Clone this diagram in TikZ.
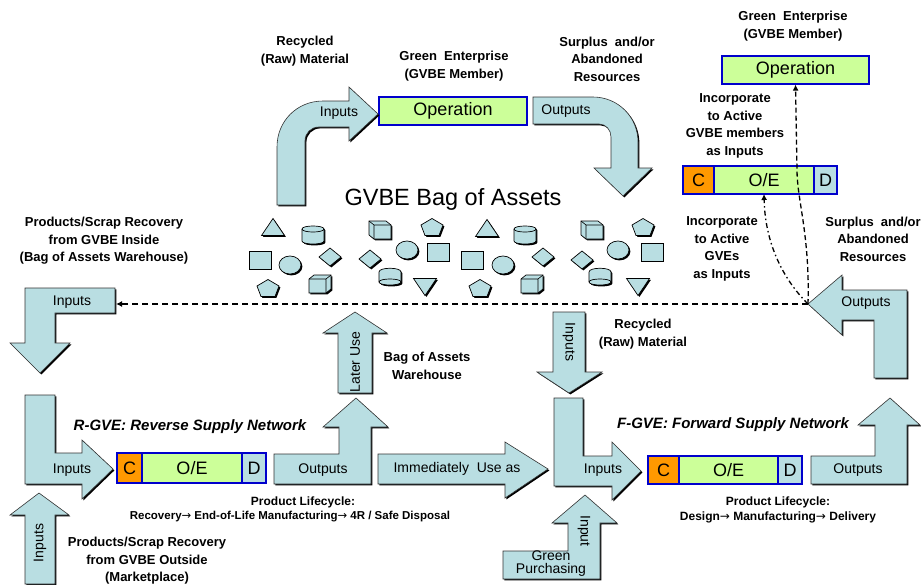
\documentclass[tikz,border=0pt]{standalone}
\usepackage{fontspec}
\setmainfont{Liberation Sans}
\newfontfamily\arrfont{DejaVu Sans}
\usetikzlibrary{arrows.meta,shadows}
\definecolor{abl}{RGB}{185,222,226}
\definecolor{lgr}{RGB}{204,255,153}
\definecolor{org}{RGB}{255,153,0}
\definecolor{bbl}{RGB}{0,0,204}
\newcommand{\myarr}{{\arrfont\mdseries →}}
\tikzset{
  shd/.style={drop shadow={shadow xshift=1.4pt,shadow yshift=-1.4pt,fill=black,opacity=1}},
  blk/.style={fill=abl,draw=black!80,line width=0.6pt,shd},
  asset/.style={fill=abl,draw=black,line width=0.7pt,shd},
  lbl/.style={font=\fontsize{13}{17.5}\selectfont\bfseries,align=center,inner sep=0pt},
  lcy/.style={font=\fontsize{12}{12}\selectfont\bfseries,inner sep=0pt},
  atxt/.style={font=\fontsize{14}{14}\selectfont,inner sep=0pt},
  ttl/.style={font=\fontsize{15}{15}\selectfont\bfseries\itshape,inner sep=0pt},
  cell/.style={draw=bbl,line width=1.2pt,inner sep=0pt,outer sep=0pt,anchor=west,font=\fontsize{18}{18}\selectfont},
  opbox/.style={draw=bbl,line width=1.2pt,fill=lgr,inner sep=0pt,font=\fontsize{18}{18}\selectfont},
  dsh/.style={draw=black,line width=1.3pt,dash pattern=on 6pt off 4pt,-{Latex[length=6pt,width=6pt]}},
  dshc/.style={draw=black,line width=1.3pt,dash pattern=on 5pt off 3pt,-{Latex[length=6pt,width=6pt]}},
  dshd/.style={draw=black,line width=1.3pt,dash pattern=on 5pt off 3pt on 1.5pt off 3pt,-{Latex[length=6pt,width=6pt]}},
  pics/sq/.style={code={\path[asset] (-11,-9) rectangle (11,9);}},
  pics/circ/.style={code={\path[asset] (0,0) ellipse [x radius=11pt,y radius=9pt];}},
  pics/dia/.style={code={\path[asset] (0,-9) -- (11,0) -- (0,9) -- (-11,0) -- cycle;}},
  pics/tri/.style={code={\path[asset] (-11.5,8.5) -- (11.5,8.5) -- (0,-8.5) -- cycle;}},
  pics/itri/.style={code={\path[asset] (-11.5,-8.5) -- (11.5,-8.5) -- (0,8.5) -- cycle;}},
  pics/pent/.style={code={\path[asset] (0,-8.5) -- (11,-2) -- (7,8.5) -- (-7,8.5) -- (-11,-2) -- cycle;}},
  pics/cyl/.style={code={
    \path[asset] (-11,-6) -- (-11,6) .. controls (-11,10) and (11,10) .. (11,6) -- (11,-6) .. controls (11,-10) and (-11,-10) .. (-11,-6) -- cycle;
    \draw[black,line width=0.7pt] (-11,-6) .. controls (-11,-2) and (11,-2) .. (11,-6);}},
  pics/cylB/.style={code={
    \path[asset] (-11,-5) -- (-11,5) .. controls (-11,9) and (11,9) .. (11,5) -- (11,-5) .. controls (11,-10) and (-11,-10) .. (-11,-5) -- cycle;
    \draw[black,line width=0.7pt] (-11,5) .. controls (-11,1) and (11,1) .. (11,5);}},
  pics/boxR/.style={code={
    \path[asset] (-11,-5) -- (-6,-9) -- (11,-9) -- (11,5) -- (6,9) -- (-11,9) -- cycle;
    \draw[black,line width=0.6pt] (-11,-5) -- (6,-5) -- (6,9) (6,-5) -- (11,-9);}},
  pics/boxL/.style={code={
    \path[asset] (-11,-9) -- (6,-9) -- (11,-5) -- (11,9) -- (-6,9) -- (-11,5) -- cycle;
    \draw[black,line width=0.6pt] (-11,-9) -- (-6,-5) -- (11,-5) (-6,-5) -- (-6,9);}},
}
\begin{document}
\begin{tikzpicture}[x=1pt,y=-1pt]
\useasboundingbox (0,0) rectangle (921,584);

% ---------- top centre ----------
\node[lbl] (recyT) at (305,51) {Recycled\\(Raw) Material};
\node[lbl] (geT) at (454,66) {Green~~Enterprise\\(GVBE Member)};
\node[lbl] (surT) at (607,59) {Surplus~~and/or\\Abandoned\\Resources};
\node[opbox,minimum width=148,minimum height=28] (opM) at (453,111) {Operation};
\path[blk] (277,205) -- (277,147) .. controls (277,121) and (297,101) .. (323,101) -- (349,101) -- (349,87) -- (378,114) -- (349,141) -- (349,127) -- (319,127) .. controls (311,127) and (305,133) .. (305,141) -- (305,205) -- cycle;
\node[atxt] (inT) at (339,113) {Inputs};
\path[blk] (533,97) -- (593,97) .. controls (618,97) and (638,117) .. (638,142) -- (638,168) -- (652,168) -- (623,196) -- (594,168) -- (611,168) -- (611,137) .. controls (611,130) and (606,124) .. (599,124) -- (533,124) -- cycle;
\node[atxt] (outT) at (566,111) {Outputs};

% ---------- top right ----------
\node[lbl] (geR) at (793,26) {Green~~Enterprise\\(GVBE Member)};
\node[opbox,minimum width=147,minimum height=28] (opR) at (795.5,70) {Operation};
\node[lbl] (incA) at (735,126) {Incorporate\\to Active\\GVBE members\\as Inputs};
\node[cell,fill=org,minimum width=31,minimum height=28] (tC) at (683,180) {C};
\node[cell,fill=lgr,minimum width=100,minimum height=28] (tOE) at (tC.east) {O/E};
\node[cell,fill=abl,minimum width=23,minimum height=28] (tD) at (tOE.east) {D};
\node[lbl] (incB) at (722,249) {Incorporate\\to Active\\GVEs\\as Inputs};
\node[lbl] (surR) at (873,239) {Surplus~~and/or\\Abandoned\\Resources};

% ---------- bag of assets ----------
\node[font=\fontsize{23.5}{23.5}\selectfont,inner sep=0pt] (bag) at (453,199) {GVBE Bag of Assets};
\pic at (273,227) {tri};  \pic at (487,228) {tri};
\pic at (313,235) {cyl};  \pic at (525,235) {cyl};
\pic at (380,230) {boxL}; \pic at (592,230) {boxL};
\pic at (432,227) {pent}; \pic at (643,227) {pent};
\pic at (260,260) {sq};   \pic at (438,252) {sq}; \pic at (472,260) {sq}; \pic at (652,252) {sq};
\pic at (290,265) {circ}; \pic at (407,250) {circ}; \pic at (503,265) {circ}; \pic at (618,250) {circ};
\pic at (330,257) {dia};  \pic at (370,259) {dia}; \pic at (543,257) {dia}; \pic at (582,260) {dia};
\pic at (268,288) {pent}; \pic at (480,288) {pent};
\pic at (320,284) {boxR}; \pic at (532,284) {boxR};
\pic at (390,277) {cylB}; \pic at (600,277) {cylB};
\pic at (425,287) {itri}; \pic at (638,287) {itri};

% ---------- left middle ----------
\node[lbl] (prodI) at (104,241) {Products/Scrap Recovery\\from GVBE Inside\\(Bag of Assets Warehouse)};
\path[blk] (25,288) -- (115,288) -- (115,313) -- (55,313) -- (55,343) -- (70,343) -- (40,373) -- (10,343) -- (25,343) -- cycle;
\coordinate (lEnd) at (116,304);
\node[atxt] (inL) at (72,302) {Inputs};

% ---------- right middle ----------
\path[blk] (808,304) -- (842,275) -- (842,290) -- (907,290) -- (907,378) -- (874,378) -- (874,320) -- (842,320) -- (842,335) -- cycle;
\coordinate (rTip) at (808,304);
\node[atxt] (outR) at (866,303) {Outputs};

% ---------- centre middle ----------
\path[blk] (338,393) -- (338,333) -- (323,333) -- (355,312) -- (387,333) -- (372,333) -- (372,393) -- cycle;
\node[atxt,rotate=90] (later) at (355,362) {Later Use};
\node[lbl] (baw) at (427,366) {Bag of Assets\\Warehouse};
\path[blk] (553,312) -- (585,312) -- (585,372) -- (602,372) -- (569,393) -- (537,372) -- (553,372) -- cycle;
\node[atxt,rotate=-90] (inMid) at (569,342) {Inputs};
\node[lbl] (recyM) at (643,334) {Recycled\\(Raw) Material};

% ---------- R-GVE ----------
\node[ttl] (rgve) at (190,427) {R-GVE: Reverse Supply Network};
\path[blk] (25,395) -- (55,395) -- (55,453) -- (82,453) -- (82,440) -- (113,469) -- (82,499) -- (82,484) -- (25,484) -- cycle;
\node[atxt] (inR) at (72,470) {Inputs};
\node[cell,fill=org,minimum width=25,minimum height=30] (rC) at (117,468) {C};
\node[cell,fill=lgr,minimum width=100,minimum height=30] (rOE) at (rC.east) {O/E};
\node[cell,fill=abl,minimum width=24,minimum height=30] (rD) at (rOE.east) {D};
\path[blk] (274,454) -- (339,454) -- (339,427) -- (323,427) -- (356,398) -- (388,427) -- (371,427) -- (371,484) -- (274,484) -- cycle;
\node[atxt] (outRg) at (323,470) {Outputs};
\path[blk] (378,454) -- (505,454) -- (505,442) -- (548,469) -- (505,498) -- (505,484) -- (378,484) -- cycle;
\node[atxt] (imm) at (457,469) {Immediately~ Use as};
\node[lcy] (plR1) at (303,502) {Product Lifecycle:};
\node[lcy,font=\fontsize{11.5}{12}\selectfont\bfseries] (plR2) at (290,517) {Recovery\myarr{} End-of-Life Manufacturing\myarr{} 4R / Safe Disposal};

% ---------- F-GVE ----------
\node[ttl] (fgve) at (733,425) {F-GVE: Forward Supply Network};
\path[blk] (554,398) -- (583,398) -- (583,456) -- (612,456) -- (612,442) -- (641,471) -- (612,500) -- (612,486) -- (554,486) -- cycle;
\node[atxt] (inF) at (603,470) {Inputs};
\node[cell,fill=org,minimum width=31,minimum height=28] (fC) at (648,470) {C};
\node[cell,fill=lgr,minimum width=99,minimum height=28] (fOE) at (fC.east) {O/E};
\node[cell,fill=abl,minimum width=24,minimum height=28] (fD) at (fOE.east) {D};
\path[blk] (811,456) -- (875,456) -- (875,425) -- (858,425) -- (890,398) -- (920,425) -- (907,425) -- (907,484) -- (811,484) -- cycle;
\node[atxt] (outF) at (858,470) {Outputs};
\node[lcy] (plF1) at (778,502) {Product Lifecycle:};
\node[lcy] (plF2) at (778,517) {Design\myarr{} Manufacturing\myarr{} Delivery};

% ---------- bottom ----------
\path[blk] (503,551) -- (568,551) -- (568,523) -- (552,523) -- (585,495) -- (617,523) -- (600,523) -- (600,579) -- (503,579) -- cycle;
\node[atxt,rotate=-90] (inp) at (584,531) {Input};
\node[font=\fontsize{14}{13}\selectfont,align=center,inner sep=0pt] (gp) at (551,564) {Green\\Purchasing};
\path[blk] (25,584) -- (25,515) -- (10,515) -- (39,493) -- (69,515) -- (55,515) -- (55,584) -- cycle;
\node[atxt,rotate=90] (inBL) at (40,543) {Inputs};
\node[lbl] (prodO) at (147,561) {Products/Scrap Recovery\\from GVBE Outside\\(Marketplace)};

% ---------- dashed connectors ----------
\draw[dsh] (rTip) -- (lEnd);
\draw[dshd] (rTip) .. controls (782,278) and (765,242) .. (tOE.south);
\draw[dshc] (rTip) .. controls (810,235) and (797,200) .. (797,170) -- (opR.south);
\end{tikzpicture}
\end{document}
